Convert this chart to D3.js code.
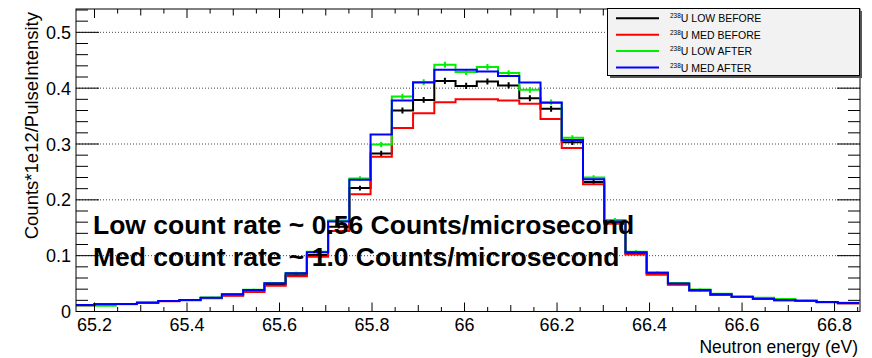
<!DOCTYPE html>
<html>
<head>
<meta charset="utf-8">
<script src="https://cdn.jsdelivr.net/npm/d3@7"></script>
<style>
  body { margin: 0; background: #fff; }
  text { font-family: "Liberation Sans", Arial, sans-serif; }
</style>
</head>
<body>
<div class="chart"></div>
<script>
// histogram binning (energy, eV)
var firstEdge = 65.154;
var binWidth = 0.04592;
var nBins = 37;

var lowBefore = [0.0114,0.0130,0.0134,0.0156,0.0186,0.0204,0.0244,0.029,0.036,0.048,0.065,0.101,0.152,0.221,0.283,0.360,0.379,0.413,0.404,0.412,0.405,0.382,0.363,0.303,0.232,0.159,0.104,0.068,0.049,0.038,0.030,0.026,0.0225,0.020,0.019,0.0168,0.015];
var medBefore = [0.0114,0.0130,0.0134,0.0155,0.0184,0.0200,0.0238,0.028,0.035,0.046,0.063,0.098,0.144,0.210,0.277,0.3285,0.355,0.375,0.380,0.380,0.378,0.372,0.345,0.293,0.228,0.157,0.102,0.066,0.048,0.037,0.030,0.026,0.0222,0.020,0.0188,0.0166,0.015];
var lowAfter = [0.0112,0.0104,0.0128,0.0160,0.0190,0.0208,0.0250,0.0312,0.0390,0.0510,0.069,0.107,0.163,0.238,0.299,0.385,0.411,0.442,0.429,0.438,0.427,0.397,0.375,0.311,0.240,0.164,0.107,0.070,0.051,0.0395,0.0318,0.0268,0.0245,0.0225,0.0198,0.0172,0.0155];
var medAfter = [0.0116,0.0132,0.0136,0.0158,0.0188,0.0206,0.0247,0.0308,0.0385,0.0505,0.0685,0.106,0.161,0.236,0.317,0.378,0.410,0.433,0.433,0.430,0.422,0.410,0.374,0.307,0.237,0.161,0.106,0.0695,0.050,0.0385,0.031,0.0265,0.023,0.0206,0.0194,0.017,0.0152];

var errLowBefore = [0.0008,0.0008,0.0009,0.001,0.001,0.0011,0.0012,0.0014,0.0016,0.0019,0.0023,0.0028,0.0035,0.0042,0.0047,0.0052,0.0053,0.0055,0.0055,0.0055,0.0054,0.0053,0.0052,0.0047,0.0041,0.0034,0.0027,0.0022,0.0019,0.0016,0.0014,0.0013,0.0012,0.0011,0.0011,0.001,0.001];
var errLowAfter = [0.0008,0.0008,0.0009,0.001,0.001,0.0011,0.0012,0.0014,0.0016,0.0019,0.0023,0.0028,0.0034,0.0041,0.0045,0.0050,0.0051,0.0053,0.0052,0.0053,0.0052,0.0050,0.0049,0.0045,0.0040,0.0033,0.0027,0.0022,0.0019,0.0016,0.0014,0.0013,0.0012,0.0011,0.0011,0.001,0.001];

var seriesNames = ["LOW BEFORE", "MED BEFORE", "LOW AFTER", "MED AFTER"];
var seriesColors = ["#000000", "#ff0000", "#00ee00", "#0000ff"];
var xTicks = [65.2, 65.4, 65.6, 65.8, 66, 66.2, 66.4, 66.6, 66.8];
var yTicks = [0, 0.1, 0.2, 0.3, 0.4, 0.5];
var notes = ["Low count rate ~ 0.56 Counts/microsecond", "Med count rate ~ 1.0 Counts/microsecond"];

var W = 872, H = 358;
var frameL = 76, frameR = 860, frameT = 9, frameB = 311.5;

var svg = d3.select(".chart").append("svg")
  .attr("width", W).attr("height", H);

var x = d3.scaleLinear().domain([65.16, 66.855]).range([frameL, frameR]);
var y = d3.scaleLinear().domain([0, 0.5418]).range([frameB, frameT]);

svg.append("clipPath").attr("id", "frame")
  .append("rect").attr("x", frameL).attr("y", frameT)
  .attr("width", frameR - frameL).attr("height", frameB - frameT);

// grid
svg.append("g").selectAll("line").data(yTicks.slice(1)).enter().append("line")
  .attr("x1", frameL).attr("x2", frameR)
  .attr("y1", function(d) { return y(d); }).attr("y2", function(d) { return y(d); })
  .attr("stroke", "#444").attr("stroke-width", 1).attr("stroke-dasharray", "1,2");

var edges = d3.range(nBins + 1).map(function(i) { return firstEdge + i * binWidth; });

var line = d3.line()
  .x(function(d) { return x(d[0]); })
  .y(function(d) { return y(d[1]); })
  .curve(d3.curveStepAfter);

var allSeries = [lowBefore, medBefore, lowAfter, medAfter];
var errs = [errLowBefore, null, errLowAfter, null];

var plot = svg.append("g").attr("clip-path", "url(#frame)");

allSeries.forEach(function(vals, s) {
  var pts = vals.map(function(v, i) { return [edges[i], v]; });
  pts.push([edges[nBins], vals[nBins - 1]]);
  plot.append("path")
    .attr("d", line(pts))
    .attr("fill", "none")
    .attr("stroke", seriesColors[s])
    .attr("stroke-width", 2);
  if (errs[s]) {
    plot.append("g").selectAll("line").data(vals).enter().append("line")
      .attr("x1", function(d, i) { return x(edges[i] + binWidth / 2); })
      .attr("x2", function(d, i) { return x(edges[i] + binWidth / 2); })
      .attr("y1", function(d, i) { return y(d - errs[s][i]); })
      .attr("y2", function(d, i) { return y(d + errs[s][i]); })
      .attr("stroke", seriesColors[s])
      .attr("stroke-width", 2);
  }
});

// frame
svg.append("rect").attr("x", frameL).attr("y", frameT)
  .attr("width", frameR - frameL).attr("height", frameB - frameT)
  .attr("fill", "none").attr("stroke", "#000").attr("stroke-width", 1);

// x ticks (bottom and top), every 0.05
var tickG = svg.append("g").attr("stroke", "#000").attr("stroke-width", 1);
d3.range(0, 34).forEach(function(i) {
  var r = Math.round((65.2 + i * 0.05) * 100) / 100;
  if (r > 66.855) return;
  var isMajor = Math.abs(r * 5 - Math.round(r * 5)) < 1e-6;
  var isMid = !isMajor && Math.abs(r * 10 - Math.round(r * 10)) < 1e-6;
  var len = isMajor ? 9 : (isMid ? 6.5 : 4.5);
  tickG.append("line").attr("x1", x(r)).attr("x2", x(r)).attr("y1", frameB).attr("y2", frameB - len);
  tickG.append("line").attr("x1", x(r)).attr("x2", x(r)).attr("y1", frameT).attr("y2", frameT + len);
});

// y ticks (left and right), every 0.02
d3.range(0, 28).forEach(function(i) {
  var r = Math.round(i * 2) / 100;
  var isMajor = (i % 5 === 0);
  var len = isMajor ? 23 : 12;
  tickG.append("line").attr("x1", frameL).attr("x2", frameL + len).attr("y1", y(r)).attr("y2", y(r));
  tickG.append("line").attr("x1", frameR).attr("x2", frameR - len).attr("y1", y(r)).attr("y2", y(r));
});

// tick labels
svg.append("g").selectAll("text").data(xTicks).enter().append("text")
  .attr("x", function(d) { return x(d); })
  .attr("y", 331)
  .attr("text-anchor", "middle")
  .attr("font-size", 18)
  .text(function(d) { return d3.format("")(d); });

svg.append("g").selectAll("text").data(yTicks).enter().append("text")
  .attr("x", 71)
  .attr("y", function(d) { return y(d) + 6.5; })
  .attr("text-anchor", "end")
  .attr("font-size", 18)
  .text(function(d) { return d === 0 ? "0" : d3.format(".1f")(d); });

// axis titles
svg.append("text")
  .attr("transform", "translate(38,12) rotate(-90)")
  .attr("text-anchor", "end")
  .attr("font-size", 18.5)
  .text("Counts*1e12/PulseIntensity");

svg.append("text")
  .attr("x", 858).attr("y", 353)
  .attr("text-anchor", "end")
  .attr("font-size", 17.5)
  .text("Neutron energy (eV)");

// annotation
svg.append("g").selectAll("text").data(notes).enter().append("text")
  .attr("x", 93)
  .attr("y", function(d, i) { return 234 + i * 32; })
  .attr("font-size", 26.5)
  .attr("font-weight", "bold")
  .text(function(d) { return d; });

// legend
var lg = svg.append("g");
lg.append("rect").attr("x", 610).attr("y", 11).attr("width", 252).attr("height", 67).attr("fill", "#555");
lg.append("rect").attr("x", 607.5).attr("y", 8.5).attr("width", 252).attr("height", 67)
  .attr("fill", "#f2f2f2").attr("stroke", "#000").attr("stroke-width", 1);

seriesNames.forEach(function(name, i) {
  var ly = 18.3 + i * 16.4;
  lg.append("line").attr("x1", 616).attr("x2", 659).attr("y1", ly).attr("y2", ly)
    .attr("stroke", seriesColors[i]).attr("stroke-width", 2);
  var t = lg.append("text").attr("x", 670).attr("y", ly + 4).attr("font-size", 10.5);
  t.append("tspan").attr("font-size", 6.5).attr("dy", -4).text("238");
  t.append("tspan").attr("dy", 4).text("U " + name);
});
</script>
</body>
</html>
